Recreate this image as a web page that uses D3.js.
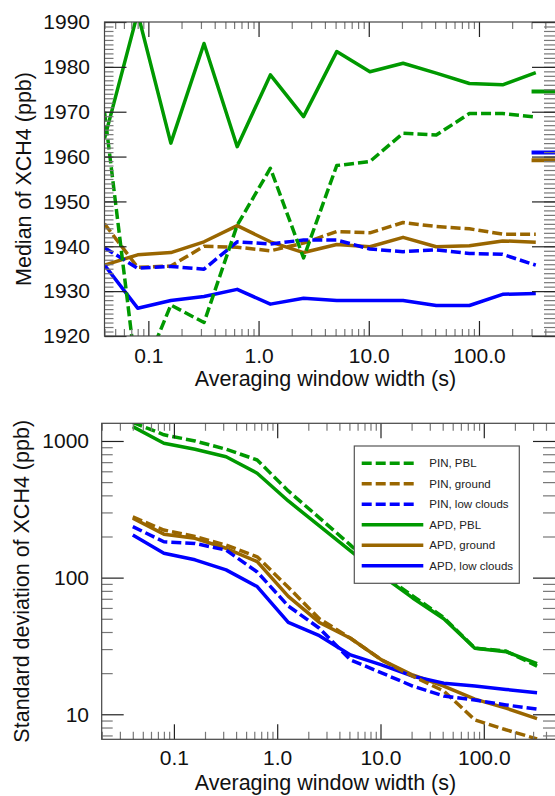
<!DOCTYPE html>
<style>
body { margin: 0; background: #fff; }
svg { display: block; font-family: "Liberation Sans", Arial, sans-serif; }
.frame { fill: none; stroke: #444; stroke-width: 1.2; }
.axis path { display: none; }
.major line { stroke: #222; stroke-width: 1.2; }
.minor line { stroke: #777; stroke-width: 1.2; }
.axis text { font-size: 21px; fill: #111; }
.title { font-size: 21.5px; fill: #111; }
.series { fill: none; stroke-width: 3.5; stroke-linejoin: round; }
.dashed { stroke-dasharray: 10,4; }
.legend rect { fill: #fff; stroke: #555; stroke-width: 1.2; }
.legend text { font-size: 11.5px; fill: #222; }
</style>
<svg width="555" height="796"></svg>
<script src="https://d3js.org/d3.v7.min.js"></script>
<script>

// averaging window widths (s)
var windows = [0.04, 0.08, 0.16, 0.32, 0.64, 1.28, 2.56, 5.12, 10.24, 20.48, 40.96, 81.92, 163.84, 327.68];

var seriesNames = ["PIN, PBL", "PIN, ground", "PIN, low clouds", "APD, PBL", "APD, ground", "APD, low clouds"];
var seriesColors = ["#009900", "#996600", "#0000ff", "#009900", "#996600", "#0000ff"];
var seriesDashed = [true, true, true, false, false, false];

// median of XCH4 (ppb)
var medPinPbl    = [1970, 1909, 1926.9, 1923, 1944.7, 1957.4, 1937.4, 1958.0, 1958.9, 1965.2, 1964.8, 1969.6, 1969.6, 1968.8];
var medPinGround = [1945.0, 1935.3, 1935.6, 1940.0, 1939.8, 1939.0, 1940.7, 1943.3, 1943.0, 1945.3, 1944.4, 1943.9, 1942.7, 1942.7];
var medPinLow    = [1939.7, 1935.1, 1935.5, 1934.9, 1941.0, 1940.5, 1941.4, 1941.4, 1939.4, 1938.8, 1939.2, 1938.4, 1938.2, 1935.8];
var medApdPbl    = [1964, 1992, 1963.0, 1985.2, 1962.2, 1978.2, 1968.9, 1983.4, 1978.9, 1980.8, 1978.6, 1976.3, 1976.0, 1978.7];
var medApdGround = [1935.8, 1938.1, 1938.6, 1941.0, 1944.6, 1941.0, 1938.6, 1940.4, 1939.9, 1942.0, 1939.9, 1940.1, 1941.2, 1940.9];
var medApdLow    = [1935.8, 1926.2, 1927.9, 1928.8, 1930.4, 1927.1, 1928.4, 1927.9, 1927.9, 1927.9, 1926.8, 1926.8, 1929.3, 1929.5];

// reference levels marked at the right edge of the median panel
var refValues = [1974.5, 1960.9, 1959.2];
var refColors = ["#009900", "#0000ff", "#996600"];
var refStart = 300;

// standard deviation of XCH4 (ppb)
var stdPinPbl    = [1370, 1110, 1000, 870, 726, 431, 274, 173, 106, 73.5, 51, 30.5, 29, 22.5];
var stdPinGround = [278, 223, 200, 173, 142, 85, 50, 36, 25, 19, 14.8, 9.1, 7.7, 6.6];
var stdPinLow    = [236, 183, 178, 159, 110, 62, 42.6, 25, 20.1, 16.1, 13.6, 12.7, 11.7, 10.9];
var stdApdPbl    = [1273, 962, 869, 767, 581, 364, 239, 157, 104, 71, 50, 30.4, 28.7, 23.5];
var stdApdGround = [272, 208, 194, 164, 131, 73, 47, 36, 25, 19.4, 16.1, 12.9, 11.1, 9.3];
var stdApdLow    = [205, 151, 135, 114, 86, 47, 37.6, 27.2, 23, 19, 16.9, 16.1, 15.2, 14.4];

var xMajors = [0.1, 1, 10, 100];
var xLabels = ["0.1", "1.0", "10.0", "100.0"];
var medTicks = d3.range(1920, 1991, 10);
var stdTicks = [10, 100, 1000];

var svg = d3.select("svg");

function logMinors(lo, hi) {
  var out = [];
  for (var e = -3; e <= 4; e++) {
    for (var k = 2; k <= 9; k++) {
      var v = +(k * Math.pow(10, e)).toPrecision(6);
      if (v >= lo * 0.999 && v <= hi * 1.001) out.push(v);
    }
  }
  return out;
}

function drawAxes(g, x, y, yMinors, yMajors, box, t) {
  var w = box.w, h = box.h,
      xMinors = logMinors(x.domain()[0], x.domain()[1]);
  // bottom
  g.append("g").attr("class", "axis minor").attr("transform", "translate(0," + h + ")")
    .call(d3.axisBottom(x).tickValues(xMinors).tickSize(-t.xMinor).tickFormat(""));
  g.append("g").attr("class", "axis major").attr("transform", "translate(0," + h + ")")
    .call(d3.axisBottom(x).tickValues(xMajors).tickSize(-t.xMajor).tickPadding(t.xPad)
      .tickFormat((d, i) => xLabels[i]));
  // top
  g.append("g").attr("class", "axis minor")
    .call(d3.axisTop(x).tickValues(xMinors).tickSize(-t.xMinor).tickFormat(""));
  g.append("g").attr("class", "axis major")
    .call(d3.axisTop(x).tickValues(xMajors).tickSize(-t.xMajor).tickFormat(""));
  // left
  g.append("g").attr("class", "axis minor")
    .call(d3.axisLeft(y).tickValues(yMinors).tickSize(-t.yMinor).tickFormat(""));
  g.append("g").attr("class", "axis major")
    .call(d3.axisLeft(y).tickValues(yMajors).tickSize(-t.yMajor).tickPadding(t.yPad).tickFormat(d3.format("d")));
  // right
  g.append("g").attr("class", "axis minor").attr("transform", "translate(" + w + ",0)")
    .call(d3.axisRight(y).tickValues(yMinors).tickSize(-t.rMinor).tickFormat(""));
  g.append("g").attr("class", "axis major").attr("transform", "translate(" + w + ",0)")
    .call(d3.axisRight(y).tickValues(yMajors).tickSize(-t.rMajor).tickFormat(""));

  g.append("rect").attr("class", "frame").attr("width", w).attr("height", h);
}

function drawSeries(g, x, y, all, order, clipId) {
  var line = d3.line().x((d, i) => x(windows[i])).y(d => y(d));
  var lg = g.append("g").attr("clip-path", "url(#" + clipId + ")");
  order.forEach(i => {
    lg.append("path")
      .attr("class", "series" + (seriesDashed[i] ? " dashed" : ""))
      .attr("stroke", seriesColors[i])
      .attr("d", line(all[i]));
  });
  return lg;
}

// ---------- top panel: median ----------
var boxA = { x: 104.5, y: 22, w: 451.5, h: 314 };
var xA = d3.scaleLog().domain([0.04, 500]).range([0, boxA.w]);
var yA = d3.scaleLinear().domain([1920, 1990]).range([boxA.h, 0]);
var gA = svg.append("g").attr("transform", "translate(" + boxA.x + "," + boxA.y + ")");

gA.append("clipPath").attr("id", "clipA").append("rect").attr("width", boxA.w).attr("height", boxA.h);

var medAll = [medPinPbl, medPinGround, medPinLow, medApdPbl, medApdGround, medApdLow];
var linesA = drawSeries(gA, xA, yA, medAll, [4, 5, 3, 1, 2, 0], "clipA");

refValues.forEach((v, i) => {
  linesA.append("line")
    .attr("x1", xA(refStart)).attr("x2", boxA.w + 2)
    .attr("y1", yA(v)).attr("y2", yA(v))
    .attr("stroke", refColors[i]).attr("stroke-width", 4);
});

drawAxes(gA, xA, yA, d3.range(1920, 1991, 1), medTicks, boxA,
  { xMajor: 15, xMinor: 7, xPad: 12, yMajor: 22, yMinor: 9, yPad: 14.5, rMajor: 24, rMinor: 12 });

svg.append("text").attr("class", "title").attr("text-anchor", "middle")
  .attr("x", 325.5).attr("y", 386).text("Averaging window width (s)");
svg.append("text").attr("class", "title").attr("text-anchor", "middle")
  .attr("transform", "translate(31," + (boxA.y + boxA.h / 2) + ") rotate(-90)")
  .text("Median of XCH4 (ppb)");

// ---------- bottom panel: standard deviation ----------
var boxB = { x: 101.7, y: 423.3, w: 454.3, h: 316 };
var xB = d3.scaleLog().domain([0.02, 500]).range([0, boxB.w]);
var yB = d3.scaleLog().domain([6.56, 1347]).range([boxB.h, 0]);
var gB = svg.append("g").attr("transform", "translate(" + boxB.x + "," + boxB.y + ")");

gB.append("clipPath").attr("id", "clipB").append("rect").attr("width", boxB.w).attr("height", boxB.h);

var stdAll = [stdPinPbl, stdPinGround, stdPinLow, stdApdPbl, stdApdGround, stdApdLow];
drawSeries(gB, xB, yB, stdAll, [3, 4, 5, 0, 1, 2], "clipB");

drawAxes(gB, xB, yB, logMinors(yB.domain()[0], yB.domain()[1]), stdTicks, boxB,
  { xMajor: 15, xMinor: 7.5, xPad: 11, yMajor: 22, yMinor: 11, yPad: 12.7, rMajor: 23, rMinor: 13 });

// legend
var legend = svg.append("g").attr("class", "legend").attr("transform", "translate(354.3,446)");
legend.append("rect").attr("width", 165).attr("height", 137.3);
seriesNames.forEach((name, i) => {
  var ly = 17.3 + i * 20.5;
  legend.append("line")
    .attr("class", seriesDashed[i] ? "dashed" : null)
    .attr("x1", 7.4).attr("x2", seriesDashed[i] ? 62.4 : 69)
    .attr("y1", ly).attr("y2", ly)
    .attr("stroke", seriesColors[i]).attr("stroke-width", 3.5);
  legend.append("text").attr("x", 75).attr("y", ly + 4).text(name);
});

svg.append("text").attr("class", "title").attr("text-anchor", "middle")
  .attr("x", 325.5).attr("y", 790).text("Averaging window width (s)");
svg.append("text").attr("class", "title").attr("text-anchor", "middle")
  .attr("transform", "translate(28.5," + (boxB.y + boxB.h / 2) + ") rotate(-90)")
  .text("Standard deviation of XCH4 (ppb)");
</script>
